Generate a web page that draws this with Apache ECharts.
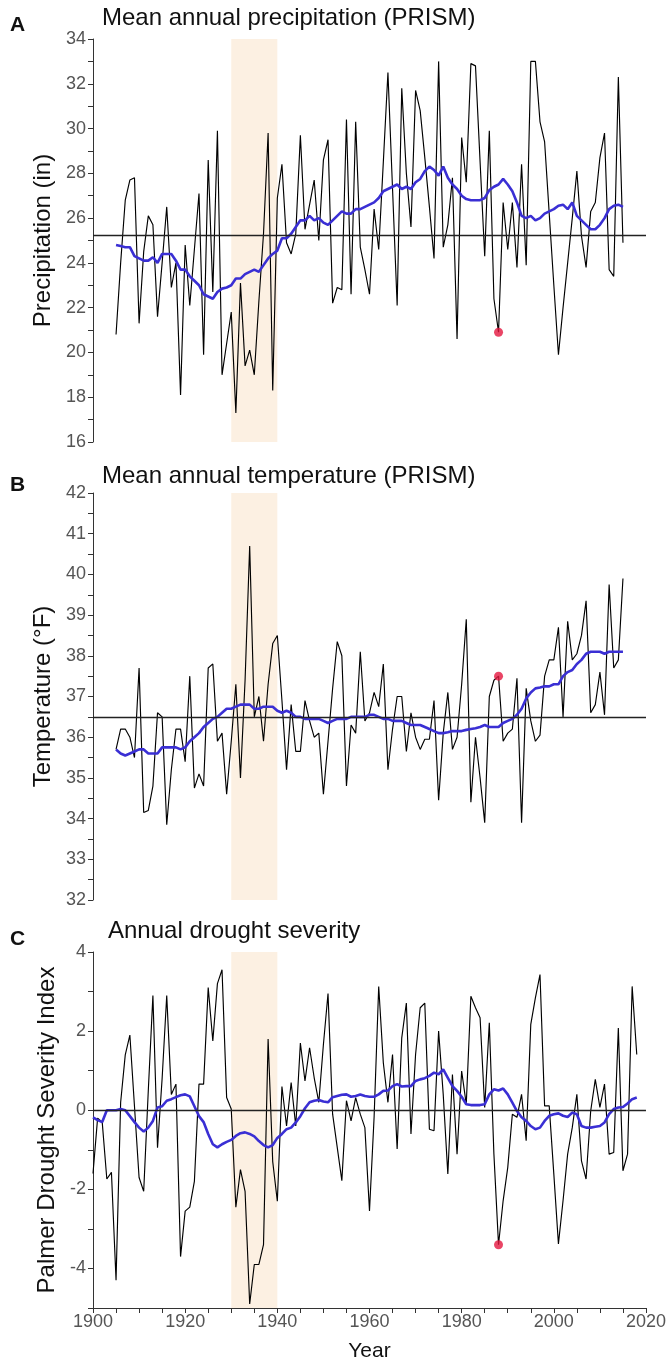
<!DOCTYPE html>
<html>
<head>
<meta charset="utf-8">
<script src="https://cdn.jsdelivr.net/npm/echarts@6/dist/echarts.min.js"></script>
<style>
html,body{margin:0;padding:0;background:#fff;}
#chart{width:669px;height:1363px;}
</style>
</head>
<body>
<div id="chart"></div>
<script>
// ---- Data ----
const startAB = 1905;   // first year of panels A and B
const startC = 1900;    // first year of panel C
const highlightYear = 1988;
const droughtBand = [1930, 1940];

// Panel A: mean annual precipitation (in), 1905-2015
const precip = [20.8,24.0,26.8,27.7,27.8,21.3,24.5,26.1,25.7,21.6,
24.0,26.5,22.9,24.0,18.1,24.8,22.1,24.6,27.1,19.9,
28.6,22.7,29.9,19.0,20.4,21.8,17.3,23.1,19.4,20.1,
19.0,22.3,25.3,29.8,18.3,26.9,28.4,24.9,24.4,25.3,
29.7,25.5,26.6,27.7,25.0,28.6,29.5,22.2,22.9,22.8,
30.4,22.6,30.3,24.7,23.7,22.6,26.4,24.6,28.5,32.5,
27.3,22.1,31.8,28.0,25.6,31.7,30.8,28.7,26.5,24.2,
33.0,24.7,25.7,27.8,20.6,29.6,27.6,32.9,32.8,28.5,
24.3,29.9,22.4,20.9,26.7,24.6,26.7,23.8,28.4,23.9,
33.0,33.0,30.3,29.4,26.2,23.0,19.9,22.0,24.0,26.0,
28.1,25.2,23.8,26.3,26.7,28.7,29.8,23.7,23.4,32.3,
24.9];
const precipSmooth = [24.8,24.75,24.7,24.7,24.3,24.2,24.1,24.1,24.25,24.0,
24.4,24.4,24.4,24.1,23.7,23.7,23.4,23.2,23.0,22.6,
22.5,22.4,22.7,22.85,22.9,23.0,23.3,23.3,23.5,23.6,
23.7,23.6,23.9,24.2,24.4,24.55,25.1,25.1,25.3,25.6,
25.9,25.9,26.1,25.9,26.0,25.8,25.7,25.9,26.1,26.3,
26.2,26.2,26.4,26.4,26.5,26.6,26.7,26.9,27.2,27.3,
27.4,27.5,27.3,27.4,27.3,27.6,27.75,28.1,28.3,28.15,
27.9,28.3,27.8,27.5,27.3,27.0,26.85,26.8,26.8,26.8,
26.9,27.25,27.4,27.5,27.75,27.5,27.2,26.7,26.1,26.0,
26.1,25.9,26.0,26.2,26.3,26.4,26.55,26.6,26.4,26.7,
26.1,25.9,25.7,25.5,25.5,25.7,26.0,26.4,26.55,26.6,
26.5];
const precipRef = 25.25;

// Panel B: mean annual temperature (°F), 1905-2015
const temp = [35.7,36.2,36.2,36.0,35.5,37.7,34.15,34.2,34.8,36.6,
36.5,33.85,35.2,36.2,36.2,35.4,37.5,34.75,35.1,34.8,
37.7,37.8,35.9,36.1,34.6,35.9,37.3,35.0,37.4,40.7,
36.5,37.0,35.9,37.3,38.3,38.5,36.9,35.2,36.8,35.65,
35.65,36.9,36.4,36.0,36.1,34.6,35.9,37.2,38.35,38.0,
34.8,36.3,36.1,38.1,36.4,36.6,37.1,36.75,37.8,35.2,
36.2,37.0,37.0,35.65,36.6,36.0,35.7,35.95,35.95,36.9,
34.45,36.1,37.1,35.7,36.0,37.3,38.9,34.4,36.0,35.0,
33.9,37.0,37.4,37.5,35.9,36.1,36.2,37.45,33.9,37.2,
36.4,35.9,36.05,37.5,37.9,37.9,38.7,36.5,38.85,37.9,
38.05,38.5,39.35,36.6,36.8,37.6,36.55,39.75,37.7,37.9,
39.9];
const tempSmooth = [35.7,35.6,35.55,35.6,35.65,35.7,35.7,35.6,35.6,35.6,
35.75,35.75,35.75,35.75,35.7,35.75,35.9,36.0,36.1,36.25,
36.35,36.45,36.5,36.6,36.7,36.7,36.75,36.8,36.8,36.8,
36.7,36.7,36.75,36.75,36.75,36.65,36.6,36.65,36.6,36.5,
36.5,36.45,36.45,36.45,36.45,36.4,36.35,36.4,36.45,36.45,
36.45,36.5,36.5,36.5,36.5,36.55,36.55,36.5,36.45,36.45,
36.4,36.4,36.4,36.35,36.3,36.3,36.3,36.25,36.2,36.15,
36.1,36.1,36.12,36.15,36.15,36.15,36.18,36.2,36.22,36.25,
36.3,36.25,36.25,36.25,36.35,36.4,36.45,36.55,36.7,36.95,
37.1,37.2,37.22,37.25,37.25,37.3,37.3,37.5,37.6,37.65,
37.8,37.9,38.05,38.1,38.1,38.1,38.05,38.1,38.1,38.1,
38.1];
const tempRef = 36.5;

// Panel C: Palmer Drought Severity Index, 1900-2018
const pdsi = [-1.6,-0.2,-0.3,-1.74,-1.57,-4.3,0.2,1.4,1.9,0.1,
-1.7,-2.05,0.5,2.9,-0.95,0.8,2.9,0.4,0.66,-3.7,
-2.55,-2.45,-1.8,0.66,0.66,3.1,1.75,3.2,3.55,0.32,
0.03,-2.45,-1.5,-2.05,-4.9,-3.9,-3.9,-3.4,1.8,-1.3,
-2.3,0.6,-0.4,0.7,-0.4,1.7,0.74,1.58,0.82,0.2,
1.66,2.95,-0.1,-0.94,-1.78,0.24,-0.27,0.32,-0.1,-0.44,
-2.55,-0.18,3.13,1.2,0.2,1.41,-0.98,1.83,2.71,-0.6,
1.41,2.59,2.71,-0.48,-0.52,2.0,0.4,-1.61,0.9,-1.11,
0.99,0.15,2.88,2.59,2.34,0.07,2.21,-1.11,-3.4,-2.29,
-1.45,-0.1,-0.18,0.4,-0.77,2.17,2.84,3.43,0.11,0.11,
-1.61,-3.38,-2.29,-1.11,-0.44,0.4,-1.28,-1.74,-0.02,0.78,
0.07,0.66,-1.11,-1.07,2.08,-1.53,-1.11,3.13,1.41];
const pdsiSmooth = [-0.18,-0.25,-0.3,0.0,0.0,0.0,0.03,0.0,-0.15,-0.3,
-0.44,-0.54,-0.44,-0.27,0.07,0.1,0.24,0.28,0.33,0.38,
0.4,0.35,0.1,-0.15,-0.3,-0.6,-0.86,-0.94,-0.86,-0.8,
-0.75,-0.65,-0.58,-0.56,-0.6,-0.66,-0.78,-0.88,-0.94,-0.88,
-0.7,-0.6,-0.48,-0.44,-0.31,-0.15,0.05,0.2,0.24,0.26,
0.22,0.2,0.33,0.36,0.39,0.4,0.34,0.36,0.4,0.36,
0.34,0.34,0.4,0.49,0.5,0.61,0.66,0.6,0.61,0.61,
0.74,0.78,0.81,0.87,0.95,0.91,1.03,0.82,0.61,0.49,
0.34,0.15,0.13,0.13,0.13,0.15,0.4,0.53,0.5,0.55,
0.4,0.19,-0.02,-0.18,-0.27,-0.4,-0.48,-0.44,-0.27,-0.14,
-0.1,-0.08,-0.14,-0.17,-0.06,-0.1,-0.4,-0.44,-0.44,-0.42,
-0.4,-0.31,-0.1,0.03,0.07,0.08,0.17,0.28,0.32];
const pdsiRef = 0;

// Text
const panelTitles = ['Mean annual precipitation (PRISM)', 'Mean annual temperature (PRISM)', 'Annual drought severity'];
const panelLetters = ['A', 'B', 'C'];
const yNames = ['Precipitation (in)', 'Temperature (\u00B0F)', 'Palmer Drought Severity Index'];
const xName = 'Year';

// ---- Build ----
const yearsAB = precip.map((_, i) => startAB + i);
const yearsC = pdsi.map((_, i) => startC + i);
const pairs = (xs, vs) => xs.map((x, i) => [x, vs[i]]);

const FONT = 'Liberation Sans, Arial, Helvetica, sans-serif';
const BLUE = '#3a2fd4';
const RED = '#e3173f';
const BAND = 'rgba(245,200,150,0.28)';

const gridDefs = [
  {left: 93, width: 553, top: 39, height: 403},
  {left: 93, width: 553, top: 493, height: 407},
  {left: 93, width: 553, top: 952, height: 359}
];

function yAxisDef(gi, min, max, interval, labelStep, name) {
  return {
    gridIndex: gi, type: 'value', min, max, interval,
    name, nameLocation: 'middle', nameGap: 30,
    nameTextStyle: {fontSize: 24, color: '#111', fontFamily: FONT},
    axisLine: {show: true, lineStyle: {color: '#333', width: 1}},
    axisTick: {show: true, length: 5, lineStyle: {color: '#333', width: 1}},
    axisLabel: {
      color: '#555', fontSize: 18, margin: 7, fontFamily: FONT,
      formatter: v => {
        const r = v / labelStep;
        return Math.abs(r - Math.round(r)) < 1e-6 ? String(Math.round(v)) : '';
      }
    },
    splitLine: {show: false}
  };
}

function xAxisDef(gi, visible) {
  return {
    gridIndex: gi, type: 'value', min: 1900, max: 2020, interval: 5, show: visible,
    name: visible ? xName : '', nameLocation: 'middle', nameGap: 33,
    nameTextStyle: {fontSize: 21, color: '#111', fontFamily: FONT},
    axisLine: {show: true, onZero: false, lineStyle: {color: '#333', width: 1}},
    axisTick: {show: true, length: 5, lineStyle: {color: '#333'}},
    axisLabel: {
      color: '#555', fontSize: 18, margin: 5, fontFamily: FONT,
      formatter: v => (v % 20 === 0 ? String(v) : '')
    },
    splitLine: {show: false}
  };
}

function blackSeries(gi, data, ref) {
  return {
    type: 'line', xAxisIndex: gi, yAxisIndex: gi, data, showSymbol: false, z: 3,
    lineStyle: {color: '#000', width: 1.15}, silent: true,
    markArea: {silent: true, itemStyle: {color: BAND}, data: [[{xAxis: droughtBand[0]}, {xAxis: droughtBand[1]}]]},
    markLine: {silent: true, symbol: 'none', label: {show: false},
      lineStyle: {color: '#222', width: 1.3, type: 'solid'}, data: [{yAxis: ref}]}
  };
}
function blueSeries(gi, data) {
  return {type: 'line', xAxisIndex: gi, yAxisIndex: gi, data, showSymbol: false, z: 4,
    lineStyle: {color: BLUE, width: 2.6}, silent: true};
}
function redSeries(gi, years, vals) {
  const i = years.indexOf(highlightYear);
  return {type: 'scatter', xAxisIndex: gi, yAxisIndex: gi, data: [[highlightYear, vals[i]]],
    symbolSize: 9, z: 5, itemStyle: {color: RED}, silent: true};
}

const titleTops = [6, 464, 919];
const letterTops = [15, 475, 929];
const titleLefts = [102, 102, 108];

const titles = [];
panelTitles.forEach((t, i) => {
  titles.push({text: t, left: titleLefts[i], top: titleTops[i], padding: 0,
    textStyle: {fontSize: 24, fontWeight: 'normal', color: '#111', fontFamily: FONT}});
  titles.push({text: panelLetters[i], left: 10, top: letterTops[i], padding: 0,
    textStyle: {fontSize: 21, fontWeight: 'bold', color: '#111', fontFamily: FONT}});
});

const option = {
  backgroundColor: '#fff',
  animation: false,
  title: titles,
  grid: gridDefs,
  xAxis: [xAxisDef(0, false), xAxisDef(1, false), xAxisDef(2, true)],
  yAxis: [
    yAxisDef(0, 16, 34, 1, 2, yNames[0]),
    yAxisDef(1, 32, 42, 0.5, 1, yNames[1]),
    yAxisDef(2, -5, 4, 1, 2, yNames[2])
  ],
  series: [
    blackSeries(0, pairs(yearsAB, precip), precipRef),
    blueSeries(0, pairs(yearsAB, precipSmooth)),
    redSeries(0, yearsAB, precip),
    blackSeries(1, pairs(yearsAB, temp), tempRef),
    blueSeries(1, pairs(yearsAB, tempSmooth)),
    redSeries(1, yearsAB, temp),
    blackSeries(2, pairs(yearsC, pdsi), pdsiRef),
    blueSeries(2, pairs(yearsC, pdsiSmooth)),
    redSeries(2, yearsC, pdsi)
  ]
};

const chart = echarts.init(document.getElementById('chart'), null, {renderer: 'canvas'});
chart.setOption(option);
</script>
</body>
</html>
